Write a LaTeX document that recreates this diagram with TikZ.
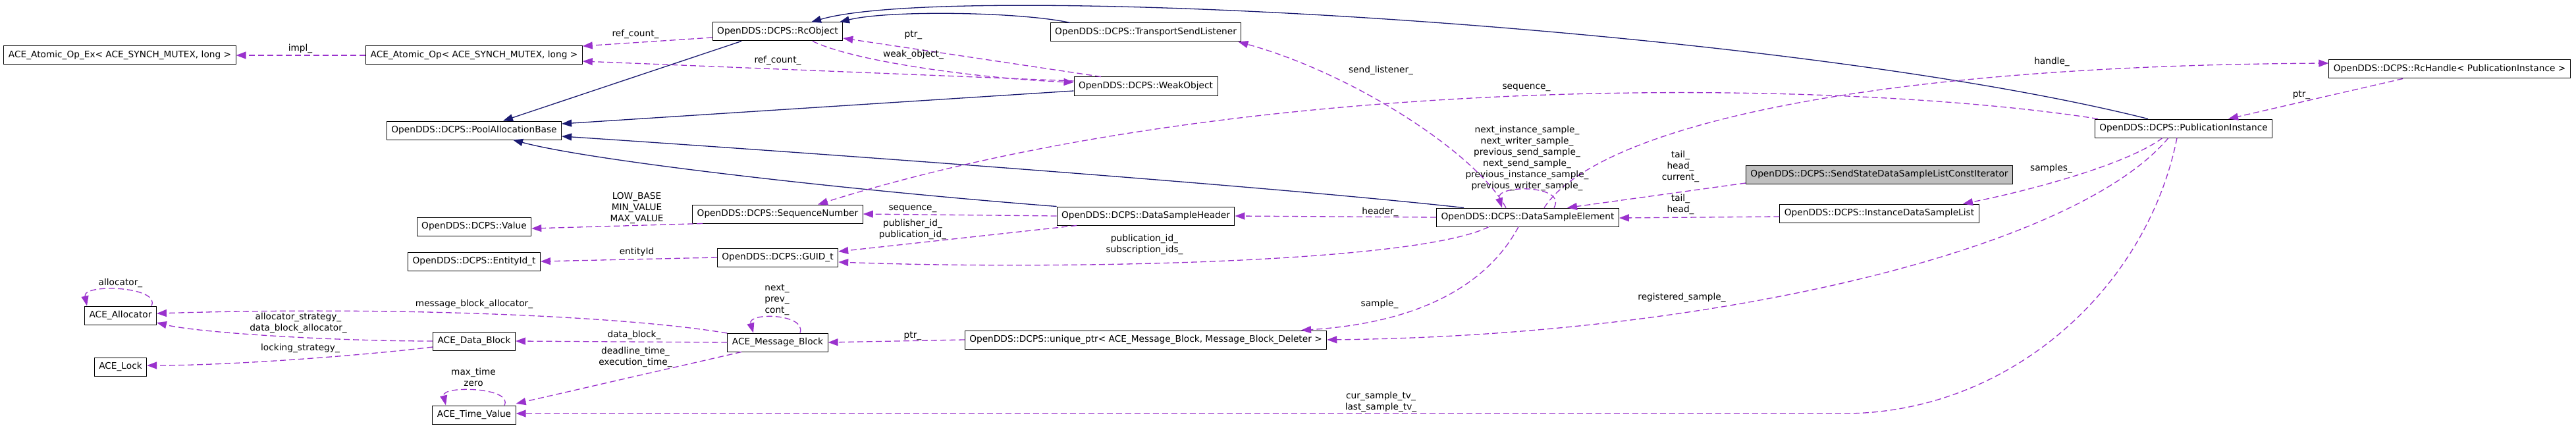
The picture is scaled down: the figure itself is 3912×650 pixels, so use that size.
\documentclass[tikz,border=0pt]{standalone}
\usepackage{fontspec}
\setmainfont{DejaVu Sans}
\usetikzlibrary{arrows.meta}

\definecolor{usecol}{HTML}{9A32CD}
\definecolor{inhcol}{HTML}{191970}
\definecolor{curcol}{HTML}{BFBFBF}

\tikzset{
	cls/.style={draw=black, fill=white, line width=1pt, minimum height=28pt, inner xsep=7pt, inner ysep=0pt, font=\fontsize{13.7}{16.5}\selectfont},
	usage/.style={draw=usecol, line width=1.3pt, dash pattern=on 9pt off 5pt, -{Triangle[length=15pt,width=11pt]}},
	inherit/.style={draw=inhcol, line width=1.3pt, -{Triangle[length=15pt,width=11pt]}},
	lbl/.style={align=center, inner sep=0pt, font=\fontsize{13.7}{17}\selectfont},
}

\begin{document}
\begin{tikzpicture}[x=1pt, y=-1pt]

		\useasboundingbox (0,0) rectangle (3912,650);

		\node[cls] (aoex) at (182, 84) {ACE\_Atomic\_Op\_Ex< ACE\_SYNCH\_MUTEX, long >};
		\node[cls] (alloc) at (183, 479) {ACE\_Allocator};
		\node[cls] (lock) at (183, 557) {ACE\_Lock};

		\node[cls] (ao) at (720, 84) {ACE\_Atomic\_Op< ACE\_SYNCH\_MUTEX, long >};
		\node[cls] (pab) at (720, 198) {OpenDDS::DCPS::PoolAllocationBase};
		\node[cls] (val) at (720, 344) {OpenDDS::DCPS::Value};
		\node[cls] (eid) at (720, 397) {OpenDDS::DCPS::EntityId\_t};
		\node[cls] (dblk) at (720, 518) {ACE\_Data\_Block};
		\node[cls] (tv) at (720, 630) {ACE\_Time\_Value};

		\node[cls] (rco) at (1181, 48) {OpenDDS::DCPS::RcObject};
		\node[cls] (seqn) at (1181, 325) {OpenDDS::DCPS::SequenceNumber};
		\node[cls] (guid) at (1181, 391) {OpenDDS::DCPS::GUID\_t};
		\node[cls] (mb) at (1181, 520) {ACE\_Message\_Block};

		\node[cls] (tsl) at (1740, 49) {OpenDDS::DCPS::TransportSendListener};
		\node[cls] (wko) at (1740, 131) {OpenDDS::DCPS::WeakObject};
		\node[cls] (dsh) at (1740, 328) {OpenDDS::DCPS::DataSampleHeader};
		\node[cls] (uptr) at (1740, 516) {OpenDDS::DCPS::unique\_ptr< ACE\_Message\_Block, Message\_Block\_Deleter >};

		\node[cls] (dse) at (2320, 330) {OpenDDS::DCPS::DataSampleElement};

		\node[cls, fill=curcol] (ssit) at (2854, 265) {OpenDDS::DCPS::SendStateDataSampleListConstIterator};
		\node[cls] (idsl) at (2854, 324) {OpenDDS::DCPS::InstanceDataSampleList};

		\node[cls] (pi) at (3316, 195) {OpenDDS::DCPS::PublicationInstance};
		\node[cls] (rch) at (3720, 105) {OpenDDS::DCPS::RcHandle< PublicationInstance >};

		\draw[inherit] ([xshift=-55pt]rco.south) -- ([xshift=44pt]pab.north);
		\draw[inherit] ([yshift=-7pt]wko.west) -- ([yshift=10pt]pab.east);
		\draw[inherit] (dsh.north west) .. controls (1300,290) and (900,245) .. ([xshift=59pt]pab.south);
		\draw[inherit] ([xshift=-97pt]dse.north) .. controls (1900,280) and (1200,230) .. ([yshift=-9pt]pab.east);
		\draw[inherit] ([xshift=-115pt]tsl.north) .. controls (1550,18) and (1350,15) .. ([xshift=94pt]rco.north);
		\draw[inherit] ([xshift=-54pt]pi.north) .. controls (2700,40) and (1450,-30) .. ([xshift=51pt]rco.north);

		\draw[usage] (ao.west) -- (aoex.east);
		\draw[usage] ([yshift=-9pt]rco.west) -- ([yshift=14pt]ao.east);
		\draw[usage] ([yshift=8pt]wko.west) -- ([yshift=-9pt]ao.east);
		\draw[usage] ([xshift=53pt]rco.south) .. controls (1300,95) and (1500,120) .. ([yshift=6pt]wko.west);
		\draw[usage] ([xshift=-68pt]wko.north) -- ([yshift=-10pt]rco.east);
		\draw[usage] ([xshift=-33pt]dse.north) .. controls (2240,230) and (2050,110) .. ([xshift=-5pt]tsl.south east);
		\draw[usage] ([xshift=25pt]dse.north) .. controls (2420,200) and (2800,100) .. ([yshift=9pt]rch.west);
		\draw[usage] ([xshift=-130pt]pi.north) .. controls (2800,120) and (1900,105) .. ([xshift=61pt]seqn.north);
		\draw[usage] (dsh.west) -- (seqn.east);
		\draw[usage] ([xshift=-105pt]dsh.south) -- ([yshift=9pt]guid.east);
		\draw[usage] ([xshift=-114pt]seqn.south) -- ([yshift=-3pt]val.east);
		\draw[usage] (guid.west) -- (eid.east);
		\draw[usage] (dse.west) -- (dsh.east);
		\draw[usage] ([xshift=-59pt]dse.south) .. controls (2150,400) and (1600,410) .. ([yshift=-7pt]guid.east);
		\draw[usage] ([xshift=-14pt]dse.south) .. controls (2260,430) and (2160,490) .. ([xshift=236pt]uptr.north);
		\draw[usage] ([xshift=40pt]dse.north) .. controls (2380,280) and (2270,280) .. ([xshift=-39pt]dse.north);
		\draw[usage] ([yshift=-13pt]ssit.west) -- ([xshift=60pt]dse.north);
		\draw[usage] ([yshift=-5pt]idsl.west) -- ([yshift=-1pt]dse.east);
		\draw[usage] ([xshift=-32pt]pi.south) .. controls (3230,250) and (3080,290) .. ([xshift=127pt]idsl.north);
		\draw[usage] ([xshift=-23pt]pi.south) .. controls (3150,380) and (2600,510) .. (uptr.east);
		\draw[usage] ([xshift=-10pt]pi.south) .. controls (3260,440) and (3050,628) .. (2800,628) -- ([yshift=2pt]tv.east);
		\draw[usage] ([xshift=-71pt]rch.south) -- ([xshift=68pt]pi.north);
		\draw[usage] (mb.west) -- (dblk.east);
		\draw[usage] ([xshift=-55pt]mb.south) -- ([yshift=17pt]tv.east);
		\draw[usage] ([yshift=14pt]mb.west) .. controls (950,480) and (600,465) .. ([yshift=3pt]alloc.east);
		\draw[usage] (dblk.west) .. controls (500,518) and (300,505) .. ([yshift=-11pt]alloc.east);
		\draw[usage] ([yshift=-9pt]dblk.west) .. controls (550,540) and (350,555) .. ([yshift=2pt]lock.east);
		\draw[usage] ([xshift=47pt]alloc.north) .. controls (245,435) and (125,430) .. ([xshift=-51pt]alloc.north);
		\draw[usage] ([xshift=46pt]tv.north) .. controls (780,588) and (670,585) .. ([xshift=-43pt]tv.north);
		\draw[usage] ([xshift=34pt]mb.north) .. controls (1225,476) and (1135,474) .. ([xshift=-37pt]mb.north);
		\draw[usage] (uptr.west) -- (mb.east);

		\node[lbl] (l-impl) at (456, 74) {impl\_};
		\node[lbl] (l-refc) at (965, 52) {ref\_count\_};
		\node[lbl] (l-refw) at (1181, 92) {ref\_count\_};
		\node[lbl] (l-wptr) at (1387, 53) {ptr\_};
		\node[lbl] (l-weak) at (1387, 83) {weak\_object\_};
		\node[lbl] (l-send) at (2097, 107) {send\_listener\_};
		\node[lbl] (l-seqpi) at (2318, 133) {sequence\_};
		\node[lbl] (l-handle) at (3116, 94) {handle\_};
		\node[lbl] (l-hptr) at (3495, 144) {ptr\_};
		\node[lbl] (l-samples) at (3115, 256) {samples\_};
		\node[lbl] (l-links) at (2319, 240) {next\_instance\_sample\_\\next\_writer\_sample\_\\previous\_send\_sample\_\\next\_send\_sample\_\\previous\_instance\_sample\_\\previous\_writer\_sample\_};
		\node[lbl] (l-iter) at (2552, 253) {tail\_\\head\_\\current\_};
		\node[lbl] (l-list) at (2552, 310) {tail\_\\head\_};
		\node[lbl] (l-header) at (2096, 322) {header\_};
		\node[lbl] (l-pubsub) at (1738, 371) {publication\_id\_\\subscription\_ids\_};
		\node[lbl] (l-sample) at (2095, 462) {sample\_};
		\node[lbl] (l-reg) at (2554, 452) {registered\_sample\_};
		\node[lbl] (l-curtv) at (2097, 610) {cur\_sample\_tv\_\\last\_sample\_tv\_};
		\node[lbl] (l-seqdsh) at (1386, 317) {sequence\_};
		\node[lbl] (l-pubid) at (1386, 348) {publisher\_id\_\\publication\_id\_};
		\node[lbl] (l-vals) at (967, 316) {LOW\_BASE\\MIN\_VALUE\\MAX\_VALUE};
		\node[lbl] (l-eid) at (967, 383) {entityId};
		\node[lbl] (l-chain) at (1180, 455) {next\_\\prev\_\\cont\_};
		\node[lbl] (l-dblk) at (963, 509) {data\_block\_};
		\node[lbl] (l-times) at (965, 542) {deadline\_time\_\\execution\_time\_};
		\node[lbl] (l-uptr) at (1386, 510) {ptr\_};
		\node[lbl] (l-mba) at (720, 462) {message\_block\_allocator\_};
		\node[lbl] (l-allocs) at (453, 490) {allocator\_strategy\_\\data\_block\_allocator\_};
		\node[lbl] (l-lock) at (456, 529) {locking\_strategy\_};
		\node[lbl] (l-alloc) at (183, 430) {allocator\_};
		\node[lbl] (l-tv) at (719, 573) {max\_time\\zero};

	\end{tikzpicture}
\end{document}
